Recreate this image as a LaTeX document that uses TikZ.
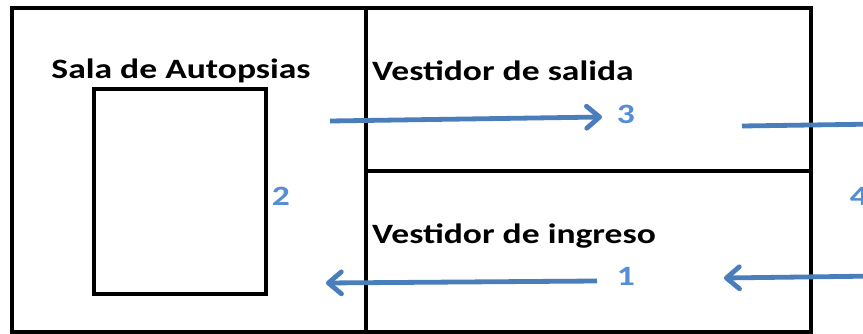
\documentclass[tikz,border=0pt]{standalone}
\usepackage{fontspec}
\setmainfont[FakeStretch=1.27]{Carlito}
\usetikzlibrary{arrows.meta}
\definecolor{arrowblue}{HTML}{4A7EBB}
\definecolor{labelblue}{HTML}{558ED5}
\tikzset{
  wall/.style={draw=black, line width=3.5pt},
  flow/.style={draw=arrowblue, line width=4.8pt, -{Straight Barb[length=13pt,width=22pt,line cap=round,round]}},
  flowline/.style={draw=arrowblue, line width=4.8pt},
  roomname/.style={font=\bfseries\fontsize{28}{32}\selectfont, text=black, inner sep=0pt, anchor=west},
  num/.style={font=\bfseries\fontsize{28}{32}\selectfont, text=labelblue, inner sep=0pt}
}
\begin{document}
\begin{tikzpicture}[x=1pt,y=-1pt]
\useasboundingbox (0,0) rectangle (863,334);
\clip (0,0) rectangle (863,334);
\fill[white] (0,0) rectangle (863,334);
% walls
\draw[wall] (12,8) rectangle (811,332);
\draw[wall] (366,8) -- (366,334);
\draw[wall] (366,171) -- (811,171);
\draw[wall] (94,89) rectangle (266,294);
% texts
\node[roomname, anchor=center] (sala) at (181,71) {Sala de Autopsias};
\node[roomname] (salida) at (372,71) {Vestidor de salida};
\node[roomname] (ingreso) at (372,236) {Vestidor de ingreso};
\node[num] (n2) at (281,196) {2};
\node[num] (n3) at (626,114) {3};
\node[num] (n1) at (626,276) {1};
\node[num] (n4) at (859,196) {4};
% arrows
\coordinate (a3s) at (330,121);
\coordinate (a3e) at (602,117);
\coordinate (a4s) at (742,126);
\coordinate (a4e) at (880,124);
\coordinate (a1s) at (597,281);
\coordinate (a1e) at (326,283);
\coordinate (a5s) at (880,276);
\coordinate (a5e) at (724,278);
\draw[flow] (a3s) -- (a3e);
\draw[flowline] (a4s) -- (a4e);
\draw[flow] (a1s) -- (a1e);
\draw[flow] (a5s) -- (a5e);
\end{tikzpicture}
\end{document}
